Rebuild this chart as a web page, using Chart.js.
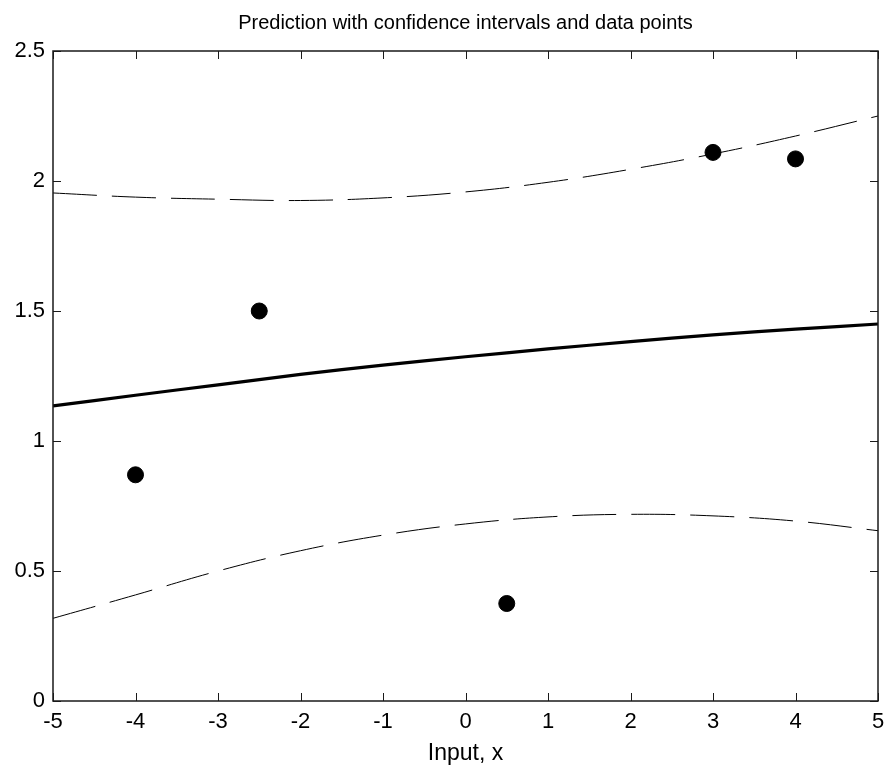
<!DOCTYPE html>
<html>
<head>
<meta charset="utf-8">
<script src="https://cdn.jsdelivr.net/npm/chart.js@4"></script>
<style>
  html, body { margin: 0; padding: 0; background: #fff; }
  #wrap { width: 889px; height: 771px; }
</style>
</head>
<body>
<div id="wrap"><canvas id="chart" width="889" height="771"></canvas></div>
<script>
// x grid for the curves
const xs = [-5, -4, -3, -2, -1, 0, 1, 2, 3, 4, 5];
const meanY = [1.135, 1.176, 1.216, 1.256, 1.292, 1.324, 1.354, 1.382, 1.408, 1.430, 1.450];
const upperY = [1.954, 1.938, 1.930, 1.925, 1.935, 1.958, 1.995, 2.045, 2.104, 2.173, 2.250];
const lowerY = [0.318, 0.408, 0.500, 0.578, 0.638, 0.681, 0.708, 0.718, 0.712, 0.692, 0.655];

// observed data points
const dataX = [-4, -2.5, 0.5, 3, 4];
const dataY = [0.87, 1.50, 0.375, 2.11, 2.085];

const xTicks = [-5, -4, -3, -2, -1, 0, 1, 2, 3, 4, 5];
const yTicks = [0, 0.5, 1, 1.5, 2, 2.5];

const TITLE = 'Prediction with confidence intervals and data points';
const FONT = 'Liberation Sans, Arial, Helvetica, sans-serif';

const toPoints = (xv, yv) => xv.map((x, i) => ({ x, y: yv[i] }));

// box around the axes with inward ticks on every side, title centred on the axes
const boxPlugin = {
  id: 'box',
  afterDatasetsDraw(chart) {
    const { ctx, chartArea: a, scales } = chart;
    const len = 8;
    ctx.save();
    ctx.strokeStyle = '#1a1a1a';
    ctx.lineWidth = 1;
    ctx.beginPath();
    xTicks.forEach((v) => {
      const px = Math.round(scales.x.getPixelForValue(v)) + 0.5;
      ctx.moveTo(px, a.bottom);
      ctx.lineTo(px, a.bottom - len);
      ctx.moveTo(px, a.top);
      ctx.lineTo(px, a.top + len);
    });
    yTicks.forEach((v) => {
      const py = Math.round(scales.y.getPixelForValue(v)) + 0.5;
      ctx.moveTo(a.left, py);
      ctx.lineTo(a.left + len, py);
      ctx.moveTo(a.right, py);
      ctx.lineTo(a.right - len, py);
    });
    ctx.stroke();
    ctx.lineWidth = 1.5;
    ctx.strokeRect(a.left, a.top, a.right - a.left, a.bottom - a.top);

    ctx.fillStyle = '#000';
    ctx.font = '20px ' + FONT;
    ctx.textAlign = 'center';
    ctx.textBaseline = 'middle';
    ctx.fillText(TITLE, (a.left + a.right) / 2, 23);
    ctx.restore();
  },
};

new Chart(document.getElementById('chart'), {
  type: 'scatter',
  data: {
    datasets: [
      {
        data: toPoints(dataX, dataY),
        backgroundColor: '#000',
        borderColor: '#000',
        pointRadius: 8,
        showLine: false,
        order: 0,
      },
      {
        data: toPoints(xs, meanY),
        borderColor: '#000',
        borderWidth: 3.2,
        pointRadius: 0,
        showLine: true,
        tension: 0.4,
        order: 1,
      },
      {
        data: toPoints(xs, upperY),
        borderColor: '#000',
        borderWidth: 1,
        borderDash: [44, 15],
        pointRadius: 0,
        showLine: true,
        tension: 0.4,
        order: 2,
      },
      {
        data: toPoints(xs, lowerY),
        borderColor: '#000',
        borderWidth: 1,
        borderDash: [44, 15],
        pointRadius: 0,
        showLine: true,
        tension: 0.4,
        order: 2,
      },
    ],
  },
  options: {
    responsive: false,
    animation: false,
    layout: { padding: { left: 0, right: 11, top: 51, bottom: 0 } },
    plugins: {
      legend: { display: false },
      tooltip: { enabled: false },
      title: { display: false },
    },
    scales: {
      x: {
        type: 'linear',
        min: -5,
        max: 5,
        afterBuildTicks: (scale) => {
          scale.ticks = xTicks.map((value) => ({ value }));
        },
        afterFit: (scale) => {
          scale.height = 70;
          scale.paddingLeft = 0;
          scale.paddingRight = 0;
        },
        grid: { display: false, drawTicks: false },
        border: { display: false },
        ticks: {
          color: '#000',
          padding: 8,
          maxRotation: 0,
          font: { family: FONT, size: 22 },
          callback: (v) => String(v),
        },
        title: {
          display: true,
          text: 'Input, x',
          color: '#000',
          font: { family: FONT, size: 23 },
          padding: { top: 0, bottom: 4 },
        },
      },
      y: {
        type: 'linear',
        min: 0,
        max: 2.5,
        afterBuildTicks: (scale) => {
          scale.ticks = yTicks.map((value) => ({ value }));
        },
        afterFit: (scale) => {
          scale.width = 53;
          scale.paddingTop = 0;
          scale.paddingBottom = 0;
        },
        grid: { display: false, drawTicks: false },
        border: { display: false },
        ticks: {
          color: '#000',
          padding: 8,
          font: { family: FONT, size: 22 },
          callback: (v) => String(v),
        },
      },
    },
  },
  plugins: [boxPlugin],
});
</script>
</body>
</html>
